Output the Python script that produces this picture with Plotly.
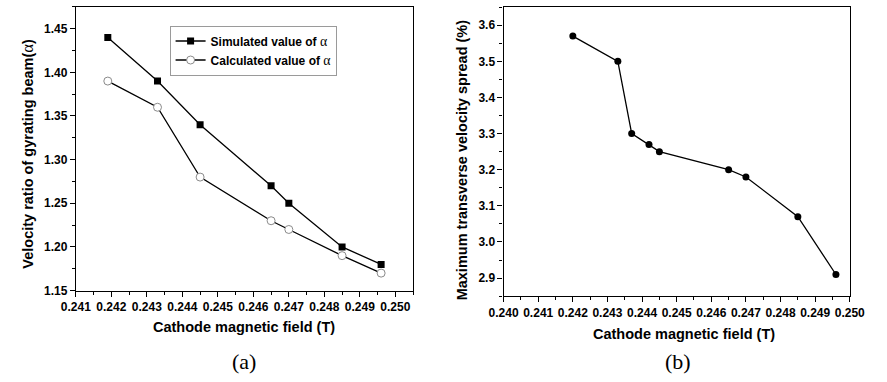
import plotly.graph_objects as go

# ---- data ----
field_a = [0.2419, 0.2433, 0.2445, 0.2465, 0.2470, 0.2485, 0.2496]
alpha_sim = [1.44, 1.39, 1.34, 1.27, 1.25, 1.20, 1.18]
alpha_calc = [1.39, 1.36, 1.28, 1.23, 1.22, 1.19, 1.17]

field_b = [0.2420, 0.2433, 0.2437, 0.2442, 0.2445, 0.2465, 0.2470, 0.2485, 0.2496]
spread_b = [3.57, 3.50, 3.30, 3.27, 3.25, 3.20, 3.18, 3.07, 2.91]

xticks_a = [0.241, 0.242, 0.243, 0.244, 0.245, 0.246, 0.247, 0.248, 0.249, 0.250]
yticks_a = [1.15, 1.20, 1.25, 1.30, 1.35, 1.40, 1.45]
xticks_b = [0.240, 0.241, 0.242, 0.243, 0.244, 0.245, 0.246, 0.247, 0.248, 0.249, 0.250]
yticks_b = [2.9, 3.0, 3.1, 3.2, 3.3, 3.4, 3.5, 3.6]

W, H = 887, 382
SANS = "Liberation Sans, Arial, sans-serif"
SERIF = "Liberation Serif, Times New Roman, serif"
ALPHA = '<span style="font-family:Liberation Serif;font-weight:normal;font-size:115%">α</span>'

fig = go.Figure()

fig.add_trace(go.Scatter(
    x=field_a, y=alpha_sim, mode="lines+markers",
    name="Simulated value of " + ALPHA,
    line=dict(color="black", width=1.3),
    marker=dict(symbol="square", size=7, color="black"),
    xaxis="x", yaxis="y"))
fig.add_trace(go.Scatter(
    x=field_a, y=alpha_calc, mode="lines+markers",
    name="Calculated value of " + ALPHA,
    line=dict(color="black", width=1.3),
    marker=dict(symbol="circle", size=8, color="white",
                line=dict(color="#8a8a8a", width=1)),
    xaxis="x", yaxis="y"))
fig.add_trace(go.Scatter(
    x=field_b, y=spread_b, mode="lines+markers", showlegend=False,
    line=dict(color="black", width=1.3),
    marker=dict(symbol="circle", size=7, color="black"),
    xaxis="x2", yaxis="y2"))

tickfont = dict(family=SANS, size=12, color="black", weight="bold")

def axis(domain, rng, ticks, fmt, minor_dtick, anchor):
    return dict(
        domain=domain, range=rng, tickvals=ticks, tickformat=fmt,
        showgrid=False, zeroline=False, showline=True, linecolor="black",
        linewidth=1.2, mirror=True, ticks="outside", ticklen=5, tickwidth=1,
        tickcolor="black", tickfont=tickfont, anchor=anchor,
        minor=dict(ticks="outside", ticklen=3, tickwidth=1, tickcolor="black",
                   dtick=minor_dtick, showgrid=False),
        fixedrange=True)

xa_dom = [63 / W, 412 / W]
ya_dom = [1 - 296 / H, 1 - 7 / H]
xb_dom = [505.7 / W, 864 / W]
yb_dom = [1 - 301.7 / H, 1 - 7.3 / H]

fig.update_layout(
    width=W, height=H, margin=dict(l=0, r=0, t=0, b=0),
    paper_bgcolor="white", plot_bgcolor="white",
    xaxis=axis(xa_dom, [0.241, 0.2505], xticks_a, ".3f", 0.0005, "y"),
    yaxis=axis(ya_dom, [1.15, 1.475], yticks_a, ".2f", 0.025, "x"),
    xaxis2=axis(xb_dom, [0.240, 0.250], xticks_b, ".3f", 0.0005, "y2"),
    yaxis2=axis(yb_dom, [2.85, 3.65], yticks_b, ".1f", 0.05, "x2"),
    legend=dict(x=160 / W, y=1 - 26 / H, xanchor="left", yanchor="top",
                bordercolor="#9a9a9a", borderwidth=1, bgcolor="white",
                font=dict(family=SANS, size=12, color="black", weight="bold"),
                tracegroupgap=0, itemwidth=30),
    showlegend=True,
)

titlefont = dict(family=SANS, size=14.5, color="black", weight="bold")
fig.add_annotation(text="Velocity ratio of gyrating beam(" + ALPHA + ")",
                   x=13 / W, y=1 - 157 / H, xref="paper", yref="paper",
                   textangle=-90, showarrow=False, font=titlefont,
                   xanchor="center", yanchor="middle")
fig.add_annotation(text="Cathode magnetic field (T)",
                   x=237 / W, y=1 - 333 / H, xref="paper", yref="paper",
                   showarrow=False, font=titlefont, xanchor="center", yanchor="middle")
fig.add_annotation(text="Maximum transverse velocity spread (%)",
                   x=463 / W, y=1 - 163 / H, xref="paper", yref="paper",
                   textangle=-90, showarrow=False, font=titlefont,
                   xanchor="center", yanchor="middle")
fig.add_annotation(text="Cathode magnetic field (T)",
                   x=692 / W, y=1 - 340 / H, xref="paper", yref="paper",
                   showarrow=False, font=titlefont, xanchor="center", yanchor="middle")

capfont = dict(family=SERIF, size=22, color="black")
fig.add_annotation(text="(a)", x=237 / W, y=1 - 368 / H, xref="paper", yref="paper",
                   showarrow=False, font=capfont, xanchor="center", yanchor="middle")
fig.add_annotation(text="(b)", x=686 / W, y=1 - 368 / H, xref="paper", yref="paper",
                   showarrow=False, font=capfont, xanchor="center", yanchor="middle")

fig.write_html("out.html")
